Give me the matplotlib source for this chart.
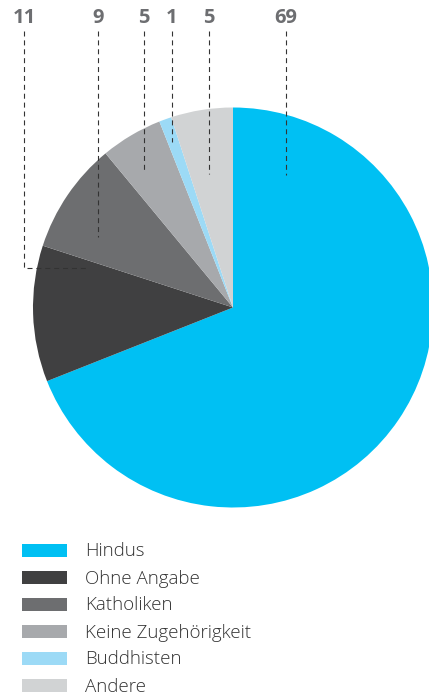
import matplotlib
matplotlib.use("Agg")
import matplotlib.pyplot as plt
from matplotlib.patches import Rectangle
import numpy as np

# ---- data ----
categories = ["Hindus", "Ohne Angabe", "Katholiken", "Keine Zugehörigkeit", "Buddhisten", "Andere"]
values = [69, 11, 9, 5, 1, 5]
value_labels = ["69", "11", "9", "5", "1", "5"]

# ---- styles ----
colors = ["#00c0f3", "#404041", "#6d6e70", "#a7a9ac", "#9cdaf6", "#d1d3d4"]

W, H = 429, 694
DPI = 100
fig = plt.figure(figsize=(W / DPI, H / DPI), dpi=DPI)

# pie axes: centre (233, 307.5) px from top-left, radius 200 px
cx, cy, R = 233, 307.5, 200
ax = fig.add_axes([(cx - R) / W, (H - cy - R) / H, 2 * R / W, 2 * R / H])
ax.pie(values, colors=colors, startangle=90, counterclock=False,
       radius=1, wedgeprops=dict(linewidth=0))
ax.set_xlim(-1, 1)
ax.set_ylim(-1, 1)
ax.axis("off")

# leader-line anchors (data units of the pie axes), in data order
anchors = [(0.265, 0.6625), (-0.73, 0.1975), (-0.675, 0.3525),
           (-0.445, 0.6725), (-0.305, 0.8275), (-0.12, 0.6675)]
label_x = [0.265, -1.045, -0.675, -0.445, -0.305, -0.12]
label_y = (cy - 17.5) / R
line_top = (cy - 31) / R

for lab, (axx, ayy), lx in zip(value_labels, anchors, label_x):
    ax.text(lx, label_y, lab, ha="center", va="center", fontsize=14.5,
            fontweight="bold", color="#6d6e71", family=["Open Sans", "DejaVu Sans"],
            clip_on=False)
    if abs(lx - axx) < 1e-6:
        xs, ys = [lx, axx], [line_top, ayy]
    else:
        xs, ys = [lx, lx, axx], [line_top, ayy, ayy]
    ax.plot(xs, ys, color="#333333", lw=0.8, dashes=(4.5, 3.5), clip_on=False)

# legend (manual)
lax = fig.add_axes([0, 0, 1, 1])
lax.set_xlim(0, W)
lax.set_ylim(H, 0)
lax.axis("off")
row0, step = 550.5, 27
for i, (cat, col) in enumerate(zip(categories, colors)):
    yc = row0 + i * step
    lax.add_patch(Rectangle((22, yc - 6.5), 45, 13, facecolor=col, edgecolor="none"))
    lax.text(85, yc + 6, cat, ha="left", va="baseline", fontsize=13.5,
             color="#333333", fontweight="light",
             family=["Open Sans", "DejaVu Sans"])

fig.savefig("out.png", dpi=DPI)
